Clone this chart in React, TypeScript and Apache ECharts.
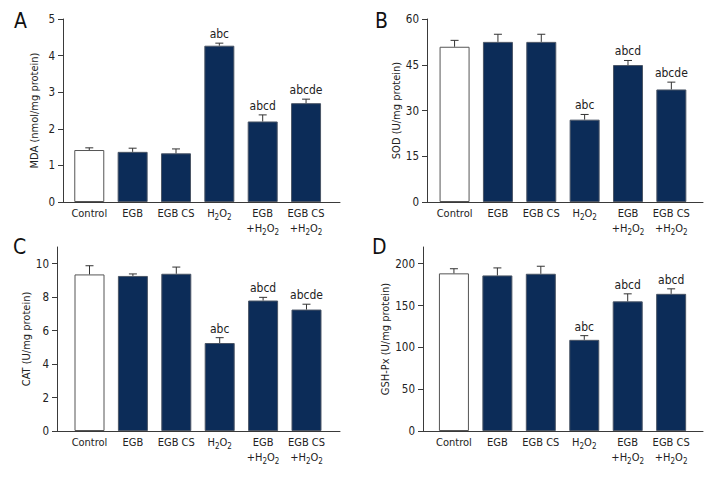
import React, { useEffect, useRef } from "react";
import * as echarts from "echarts";

const categories = ["Control", "EGB", "EGB CS", "H2O2", "EGB+H2O2", "EGB CS+H2O2"];
const categoryLabels = [
  "Control",
  "EGB",
  "EGB CS",
  "H{s|2}O{s|2}",
  "EGB\n+H{s|2}O{s|2}",
  "EGB CS\n+H{s|2}O{s|2}",
];

const mdaValues = [1.42, 1.37, 1.33, 4.27, 2.2, 2.7];
const mdaErrors = [0.06, 0.1, 0.12, 0.07, 0.18, 0.11];
const mdaMarks = ["", "", "", "abc", "abcd", "abcde"];
const mdaTicks = [0, 1, 2, 3, 4, 5];

const sodValues = [50.9, 52.5, 52.5, 27, 44.9, 36.9];
const sodErrors = [2.1, 2.5, 2.5, 1.7, 1.5, 2.4];
const sodMarks = ["", "", "", "abc", "abcd", "abcde"];
const sodTicks = [0, 15, 30, 45, 60];

const catValues = [9.36, 9.27, 9.4, 5.26, 7.8, 7.26];
const catErrors = [0.52, 0.12, 0.4, 0.32, 0.19, 0.32];
const catMarks = ["", "", "", "abc", "abcd", "abcde"];
const catTicks = [0, 2, 4, 6, 8, 10];

const gshValues = [188.5, 186, 188, 109, 155, 164];
const gshErrors = [5.5, 9, 9, 5, 9, 6];
const gshMarks = ["", "", "", "abc", "abcd", "abcd"];
const gshTicks = [0, 50, 100, 150, 200];

const FONT = "'Liberation Sans Narrow', 'DejaVu Sans Condensed', 'Roboto', sans-serif";
const NAVY = "#0c2c58";
const AXIS = "#3a3a3a";
const TEXT = "#222";

type Panel = {
  letter: string;
  name: string;
  values: number[];
  errors: number[];
  marks: string[];
  ticks: number[];
  yMax: number;
  left: number;
  top: number;
  width: number;
  height: number;
  xMin: number;
  xMax: number;
  letterX: number;
  letterY: number;
};

const panels: Panel[] = [
  { letter: "A", name: "MDA (nmol/mg protein)", values: mdaValues, errors: mdaErrors, marks: mdaMarks, ticks: mdaTicks, yMax: 5,
    left: 63, top: 19, width: 277, height: 183, xMin: -0.606, xMax: 5.783, letterX: 14, letterY: 10 },
  { letter: "B", name: "SOD (U/mg protein)", values: sodValues, errors: sodErrors, marks: sodMarks, ticks: sodTicks, yMax: 60,
    left: 427, top: 19, width: 276, height: 183, xMin: -0.636, xMax: 5.73, letterX: 375, letterY: 10 },
  { letter: "C", name: "CAT (U/mg protein)", values: catValues, errors: catErrors, marks: catMarks, ticks: catTicks, yMax: 11,
    left: 57, top: 247, width: 283, height: 184, xMin: -0.749, xMax: 5.772, letterX: 13, letterY: 236 },
  { letter: "D", name: "GSH-Px (U/mg protein)", values: gshValues, errors: gshErrors, marks: gshMarks, ticks: gshTicks, yMax: 220,
    left: 423, top: 247, width: 280, height: 184, xMin: -0.712, xMax: 5.733, letterX: 372, letterY: 236 },
];

function buildOption() {
  const grid: any[] = [];
  const xAxis: any[] = [];
  const yAxis: any[] = [];
  const series: any[] = [];
  const graphic: any[] = [];

  panels.forEach((p, k) => {
    grid.push({ left: p.left, top: p.top, width: p.width, height: p.height, containLabel: false });
    xAxis.push({
      type: "value",
      gridIndex: k,
      min: p.xMin,
      max: p.xMax,
      splitLine: { show: false },
      axisTick: { show: false },
      axisLine: { show: true, onZero: false, lineStyle: { color: AXIS, width: 1 } },
      axisLabel: {
        customValues: [0, 1, 2, 3, 4, 5],
        formatter: (v: number) => categoryLabels[Math.round(v)] ?? "",
        fontFamily: FONT,
        fontSize: 11,
        color: TEXT,
        lineHeight: 15,
        margin: 4,
        rich: {
          s: { fontFamily: FONT, fontSize: 8, lineHeight: 6, verticalAlign: "bottom", color: TEXT },
        },
      },
    });
    yAxis.push({
      type: "value",
      gridIndex: k,
      min: 0,
      max: p.yMax,
      name: p.name,
      nameLocation: "middle",
      nameGap: 23,
      nameTextStyle: { fontFamily: FONT, fontSize: 11, color: TEXT },
      splitLine: { show: false },
      axisLine: { show: true, onZero: false, lineStyle: { color: AXIS, width: 1 } },
      axisTick: { show: true, length: 5, lineStyle: { color: AXIS }, customValues: p.ticks },
      axisLabel: { customValues: p.ticks, fontFamily: FONT, fontSize: 11.5, color: TEXT, margin: 8 },
    });
    series.push({
      type: "bar",
      name: p.letter,
      xAxisIndex: k,
      yAxisIndex: k,
      barWidth: 30,
      data: p.values.map((v, i) => ({
        value: [i, v],
        name: categories[i],
        itemStyle: i === 0
          ? { color: "#ffffff", borderColor: "#555", borderWidth: 1 }
          : { color: NAVY, borderColor: "#4a5566", borderWidth: 1 },
      })),
    });
    series.push({
      type: "custom",
      name: p.letter + " err",
      xAxisIndex: k,
      yAxisIndex: k,
      z: 5,
      clip: false,
      data: p.values.map((v, i) => [i, v, p.errors[i]]),
      renderItem: (params: any, api: any) => {
        const x = api.value(0);
        const v = api.value(1);
        const e = api.value(2);
        const base = api.coord([x, v]);
        const top = api.coord([x, v + e]);
        const mark = p.marks[params.dataIndex];
        const children: any[] = [
          { type: "line", shape: { x1: base[0], y1: base[1], x2: top[0], y2: top[1] }, style: { stroke: "#333", lineWidth: 1 } },
          { type: "line", shape: { x1: top[0] - 4, y1: top[1], x2: top[0] + 4, y2: top[1] }, style: { stroke: "#333", lineWidth: 1 } },
        ];
        if (mark) {
          children.push({
            type: "text",
            style: {
              text: mark,
              x: top[0],
              y: top[1] - 3,
              align: "center",
              verticalAlign: "bottom",
              fontFamily: FONT,
              fontSize: 12,
              fill: TEXT,
            },
          });
        }
        return { type: "group", children };
      },
    });
    graphic.push({
      type: "text",
      left: p.letterX,
      top: p.letterY,
      style: { text: p.letter, fontFamily: FONT, fontSize: 21, fill: "#111" },
    });
  });

  return { animation: false, backgroundColor: "#ffffff", grid, xAxis, yAxis, series, graphic };
}

export default function App() {
  const ref = useRef<HTMLDivElement>(null);
  useEffect(() => {
    if (!ref.current) return;
    const chart = echarts.init(ref.current, undefined, { renderer: "svg" });
    chart.setOption(buildOption() as any);
    return () => chart.dispose();
  }, []);
  return <div ref={ref} style={{ position: "absolute", left: 0, top: 0, width: 720, height: 480 }} />;
}
